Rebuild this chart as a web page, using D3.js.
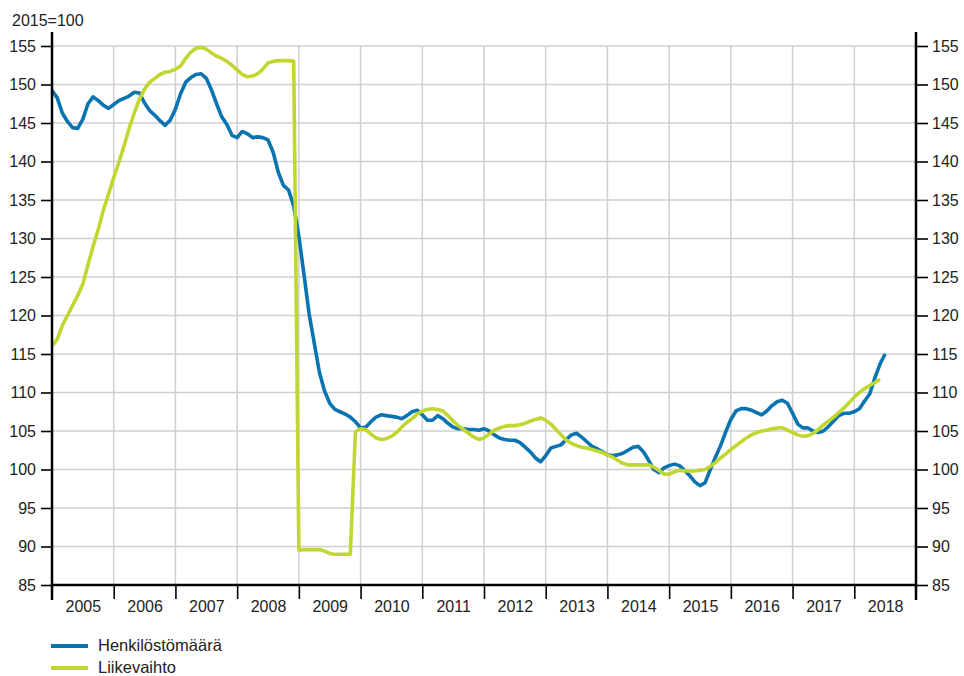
<!DOCTYPE html>
<html>
<head>
<meta charset="utf-8">
<script src="https://cdn.jsdelivr.net/npm/d3@7"></script>
<style>
  html, body { margin: 0; padding: 0; background: #fff; }
  svg { display: block; font-family: "Liberation Sans", Arial, sans-serif; }
</style>
</head>
<body>
<svg id="chart" width="964" height="676"></svg>
<script>
// ---- Data (monthly, starting January 2005) ----
const startYear = 2005;
const seriesNames = ["Henkilöstömäärä", "Liikevaihto"];
const seriesColors = ["#0a74b0", "#c2d631"];

const henkilostomaara = [
  149.2,148.3,146.3,145.2,144.4,144.3,145.5,147.5,148.4,147.9,147.3,146.9,
  147.4,147.9,148.2,148.5,149.0,148.9,147.6,146.6,146.0,145.3,144.7,145.4,
  146.8,148.8,150.3,150.9,151.3,151.4,150.8,149.3,147.5,145.8,144.8,143.4,
  143.1,143.9,143.6,143.1,143.2,143.1,142.8,141.2,138.6,136.9,136.3,134.2,
  130.3,125.3,120.2,116.4,112.6,110.2,108.6,107.8,107.5,107.2,106.8,106.2,
  105.4,105.5,106.2,106.8,107.1,107.0,106.9,106.8,106.6,107.0,107.5,107.7,
  107.1,106.4,106.4,107.0,106.6,106.0,105.5,105.3,105.3,105.2,105.2,105.1,
  105.3,105.0,104.5,104.1,103.9,103.8,103.8,103.5,102.9,102.3,101.5,101.0,
  101.8,102.8,103.0,103.2,103.9,104.5,104.7,104.2,103.6,103.0,102.7,102.3,
  101.9,101.8,101.9,102.1,102.5,102.9,103.0,102.3,101.2,100.0,99.6,100.2,
  100.5,100.7,100.5,99.9,99.2,98.4,97.9,98.3,100.0,101.6,103.1,104.9,
  106.5,107.6,107.9,107.9,107.7,107.4,107.1,107.6,108.3,108.8,109.0,108.6,
  107.3,105.9,105.4,105.4,105.0,104.8,105.0,105.6,106.3,107.0,107.3,107.3,
  107.5,107.9,108.9,109.8,111.9,113.7,115.0
];

const liikevaihto = [
  116.0,116.9,118.7,120.0,121.3,122.6,124.1,126.6,129.0,131.2,133.7,135.8,
  137.9,139.9,142.0,144.3,146.3,148.1,149.4,150.3,150.8,151.3,151.6,151.7,
  152.0,152.4,153.4,154.2,154.7,154.8,154.6,154.1,153.7,153.4,153.0,152.5,
  151.9,151.3,151.0,151.1,151.4,152.0,152.8,153.0,153.1,153.1,153.1,153.0,
  89.5,89.6,89.6,89.6,89.6,89.4,89.1,89.0,89.0,89.0,89.0,104.9,
  105.3,105.2,104.6,104.1,103.9,104.0,104.3,104.8,105.5,106.1,106.6,107.2,
  107.6,107.8,107.9,107.8,107.6,107.0,106.3,105.7,105.2,104.7,104.2,103.9,
  104.1,104.6,105.1,105.4,105.6,105.7,105.7,105.8,106.0,106.3,106.5,106.7,
  106.4,105.9,105.2,104.5,103.8,103.4,103.1,102.9,102.8,102.6,102.4,102.2,
  101.9,101.6,101.2,100.8,100.6,100.6,100.6,100.6,100.6,100.3,99.9,99.4,
  99.4,99.7,99.9,99.8,99.8,99.8,99.9,100.0,100.4,100.9,101.5,102.0,
  102.6,103.1,103.6,104.1,104.5,104.8,105.0,105.1,105.3,105.4,105.4,105.1,
  104.8,104.5,104.3,104.4,104.7,105.2,105.8,106.3,106.8,107.4,108.0,108.7,
  109.4,110.0,110.5,110.9,111.3,111.7
];

const yTicks = [85, 90, 95, 100, 105, 110, 115, 120, 125, 130, 135, 140, 145, 150, 155];
const yearLabels = ["2005","2006","2007","2008","2009","2010","2011","2012","2013","2014","2015","2016","2017","2018"];
const unitLabel = "2015=100";

(function draw() {
  const svg = d3.select("#chart");
  const pL = 52, pR = 916, pT = 46, pB = 585;
  const axisTop = 32, axisBottom = 600;
  const fontSize = 16;
  const textColor = "#222";
  const gridColor = "#cfcfcf";

  const x = d3.scaleLinear().domain([2005, 2019]).range([pL, pR]);
  const y = d3.scaleLinear().domain([85, 155]).range([pB, pT]);

  const yearStarts = d3.range(2005, 2020);

  // Grid
  const grid = svg.append("g");
  grid.selectAll("line.h").data(yTicks).join("line")
    .attr("x1", pL).attr("x2", pR)
    .attr("y1", d => y(d)).attr("y2", d => y(d))
    .attr("stroke", gridColor).attr("stroke-width", 1.5);
  grid.selectAll("line.v").data(yearStarts.slice(1, -1)).join("line")
    .attr("x1", d => x(d)).attr("x2", d => x(d))
    .attr("y1", pT).attr("y2", pB)
    .attr("stroke", gridColor).attr("stroke-width", 1.5);

  // Series lines
  const line = d3.line()
    .x((d, i) => x(startYear + i / 12))
    .y(d => y(d));

  [henkilostomaara, liikevaihto].forEach((vals, k) => {
    svg.append("path")
      .datum(vals)
      .attr("fill", "none")
      .attr("stroke", seriesColors[k])
      .attr("stroke-width", 3.6)
      .attr("stroke-linejoin", "round")
      .attr("d", line);
  });

  // Axes
  const axisColor = "#000";
  function styleAxis(g) {
    g.select(".domain").remove();
    g.selectAll(".tick line").attr("stroke", axisColor).attr("stroke-width", 1.6);
    g.selectAll(".tick text")
      .attr("fill", textColor)
      .style("font-size", fontSize + "px")
      .style("font-family", "'Liberation Sans', Arial, sans-serif");
  }

  svg.append("g")
    .attr("transform", `translate(${pL},0)`)
    .call(d3.axisLeft(y).tickValues(yTicks).tickSize(11).tickPadding(5).tickFormat(d3.format("d")))
    .call(styleAxis);

  svg.append("g")
    .attr("transform", `translate(${pR},0)`)
    .call(d3.axisRight(y).tickValues(yTicks).tickSize(12).tickPadding(4).tickFormat(d3.format("d")))
    .call(styleAxis);

  // x ticks at year boundaries
  svg.append("g")
    .attr("transform", `translate(0,${pB})`)
    .call(d3.axisBottom(x).tickValues(yearStarts.slice(1, -1)).tickSize(14).tickFormat(""))
    .call(styleAxis);

  // x labels centered in each year
  svg.append("g")
    .attr("transform", `translate(0,${pB})`)
    .call(d3.axisBottom(x).tickValues(yearLabels.map(d => +d + 0.5)).tickSize(0).tickPadding(16)
          .tickFormat((d, i) => yearLabels[i]))
    .call(styleAxis);

  // Axis lines
  svg.append("line").attr("x1", pL).attr("x2", pL).attr("y1", axisTop).attr("y2", axisBottom)
    .attr("stroke", axisColor).attr("stroke-width", 2.5);
  svg.append("line").attr("x1", pR).attr("x2", pR).attr("y1", axisTop).attr("y2", axisBottom)
    .attr("stroke", axisColor).attr("stroke-width", 2.5);
  svg.append("line").attr("x1", pL).attr("x2", pR).attr("y1", pB).attr("y2", pB)
    .attr("stroke", axisColor).attr("stroke-width", 2.5);

  // Unit label
  svg.append("text")
    .attr("x", 12).attr("y", 26)
    .attr("fill", textColor)
    .style("font-size", fontSize + "px")
    .text(unitLabel);

  // Legend
  const legend = svg.append("g");
  const legendRows = [646, 668];
  seriesNames.forEach((name, k) => {
    const ly = legendRows[k];
    legend.append("line")
      .attr("x1", 51).attr("x2", 88).attr("y1", ly).attr("y2", ly)
      .attr("stroke", seriesColors[k]).attr("stroke-width", 4);
    legend.append("text")
      .attr("x", 98).attr("y", ly + 5)
      .attr("fill", textColor)
      .style("font-size", "16.5px")
      .text(name);
  });
})();
</script>
</body>
</html>
